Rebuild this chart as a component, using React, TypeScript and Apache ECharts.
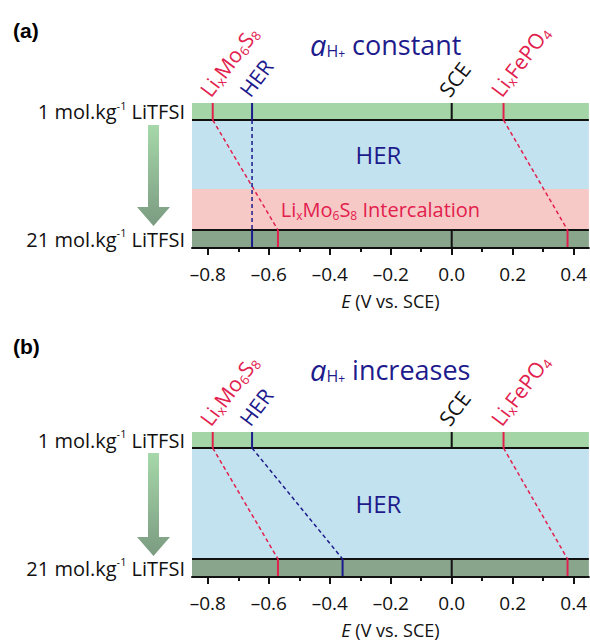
import React, { useEffect, useRef } from 'react';
import * as echarts from 'echarts';

// ---------- data ----------
const xTickValues = [-0.8, -0.6, -0.4, -0.2, 0.0, 0.2, 0.4];
const xMinorTickValues = [-0.7, -0.5, -0.3, -0.1, 0.1, 0.3];
const xRange = [-0.852, 0.45];

const couples = ['LixMo6S8', 'HER', 'SCE', 'LixFePO4'];
const coupleRichText = ['Li{s|x}Mo{s|6}S{s|8}', 'HER', 'SCE', 'Li{s|x}FePO{s|4}'];
const coupleColorKeys = ['red', 'navy', 'black', 'red'];
const coupleHasConnector = [true, true, false, true];

// potentials (V vs. SCE) in 1 mol/kg and 21 mol/kg LiTFSI
const potentialsA1m = [-0.784, -0.655, 0.0, 0.17];
const potentialsA21m = [-0.57, -0.655, 0.0, 0.38];
const potentialsB1m = [-0.784, -0.655, 0.0, 0.17];
const potentialsB21m = [-0.57, -0.358, 0.0, 0.38];

const concentrationLabels = ['21 mol.kg{sup|-1} LiTFSI', '1 mol.kg{sup|-1} LiTFSI'];

// band boundaries (vertical units, 0 = bottom of 21 mol/kg band)
const levelsA = [0, 18, 59, 128, 145];
const regionsA = ['c21', 'intercalation', 'her', 'c1'];
const levelsB = [0, 18, 129, 145];
const regionsB = ['c21', 'her', 'c1'];

const panelTags = ['(a)', '(b)'];
const panelTitles = ['constant', 'increases'];

// ---------- styles ----------
const FONT = 'Open Sans';
const COLORS: Record<string, string> = {
  red: '#e2204d',
  navy: '#1d1b8c',
  black: '#111111',
};
const REGION_COLORS: Record<string, string> = {
  c1: '#a3d5a6',
  her: '#c3e2ef',
  intercalation: '#f7c9c6',
  c21: '#89a68d',
};
const GRIDS = [
  { left: 192, right: 0, top: 103, height: 145 },
  { left: 192, right: 0, top: 432, height: 145 },
];
const LABEL_ANGLE = 53;
const LABEL_OFFSET = [-8, -9];

function regionLabel(region: string) {
  if (region === 'her') {
    return {
      show: true,
      position: 'inside',
      offset: [-12, 0],
      formatter: 'HER',
      color: COLORS.navy,
      fontSize: 24,
      fontFamily: FONT,
      textBorderWidth: 0,
    };
  }
  if (region === 'intercalation') {
    return {
      show: true,
      position: 'inside',
      offset: [-10, 0],
      formatter: 'Li{s|x}Mo{s|6}S{s|8} Intercalation',
      color: COLORS.red,
      fontSize: 20,
      lineHeight: 24,
      fontFamily: FONT,
      textBorderWidth: 0,
      rich: {
        s: { fontSize: 12, lineHeight: 12, verticalAlign: 'bottom', color: COLORS.red, fontFamily: FONT },
      },
    };
  }
  return { show: false };
}

function buildPanel(gi: number, levels: number[], regions: string[], p1: number[], p21: number[]) {
  const yMax = levels[levels.length - 1];
  const topLo = levels[levels.length - 2];
  const botHi = levels[1];
  const series: any[] = [];

  series.push({
    type: 'line',
    xAxisIndex: gi * 2,
    yAxisIndex: gi,
    data: [],
    z: 1,
    silent: true,
    markArea: {
      silent: true,
      data: regions.map((r, k) => [
        {
          xAxis: xRange[0],
          yAxis: levels[k],
          itemStyle: { color: REGION_COLORS[r] },
          label: regionLabel(r),
        },
        { xAxis: xRange[1], yAxis: levels[k + 1] },
      ]),
    },
  });

  [topLo, botHi].forEach((lv) => {
    series.push({
      type: 'line',
      xAxisIndex: gi * 2,
      yAxisIndex: gi,
      data: [
        [xRange[0], lv],
        [xRange[1], lv],
      ],
      symbol: 'none',
      silent: true,
      z: 3,
      lineStyle: { color: '#111', width: 2 },
    });
  });

  couples.forEach((c, i) => {
    const color = COLORS[coupleColorKeys[i]];
    series.push({
      type: 'line',
      xAxisIndex: gi * 2,
      yAxisIndex: gi,
      data: [
        [p1[i], topLo],
        [p1[i], yMax],
      ],
      symbol: 'none',
      silent: true,
      z: 4,
      lineStyle: { color, width: 2 },
    });
    series.push({
      type: 'line',
      xAxisIndex: gi * 2,
      yAxisIndex: gi,
      data: [
        [p21[i], 0],
        [p21[i], botHi],
      ],
      symbol: 'none',
      silent: true,
      z: 4,
      lineStyle: { color, width: 2 },
    });
    if (coupleHasConnector[i]) {
      series.push({
        type: 'line',
        xAxisIndex: gi * 2,
        yAxisIndex: gi,
        data: [
          [p1[i], topLo],
          [p21[i], botHi],
        ],
        symbol: 'none',
        silent: true,
        z: 4,
        lineStyle: { color, width: 1.5, type: [4, 3] },
      });
    }
  });

  const xAxes = [
    {
      type: 'value',
      gridIndex: gi,
      position: 'bottom',
      min: xRange[0],
      max: xRange[1],
      z: 10,
      name: '{i|E} (V vs. SCE)',
      nameLocation: 'middle',
      nameGap: 45,
      nameTextStyle: {
        color: '#111',
        fontSize: 18,
        lineHeight: 16,
        fontFamily: FONT,
        rich: { i: { fontStyle: 'italic', fontSize: 18, lineHeight: 16, fontFamily: FONT, color: '#111' } },
      },
      axisLine: { onZero: false, lineStyle: { color: '#111', width: 2 } },
      axisTick: { customValues: xTickValues, length: 7, lineStyle: { color: '#111', width: 2 } },
      axisLabel: {
        customValues: xTickValues,
        margin: 16,
        color: '#111',
        fontSize: 19,
        fontFamily: FONT,
        formatter: (v: number) => v.toFixed(1).replace('-', '\u2013'),
      },
      splitLine: { show: false },
    },
    {
      type: 'value',
      gridIndex: gi,
      position: 'bottom',
      min: xRange[0],
      max: xRange[1],
      z: 10,
      axisLine: { show: false, onZero: false },
      axisTick: { customValues: xMinorTickValues, length: 4, lineStyle: { color: '#111', width: 2 } },
      axisLabel: { show: false },
      splitLine: { show: false },
    },
  ];

  const yAxis = {
    type: 'value',
    gridIndex: gi,
    min: 0,
    max: yMax,
    axisLine: { show: false },
    axisTick: { show: false },
    splitLine: { show: false },
    axisLabel: {
      customValues: [botHi / 2, (topLo + yMax) / 2],
      margin: 7,
      color: '#111',
      fontSize: 20,
      lineHeight: 24,
      fontFamily: FONT,
      formatter: (v: number) => (v < yMax / 2 ? concentrationLabels[0] : concentrationLabels[1]),
      rich: { sup: { fontSize: 11, lineHeight: 11, verticalAlign: 'top', fontFamily: FONT, color: '#111' } },
    },
  };

  return { series, xAxes, yAxis, yMax };
}

function arrow(top: number, headTop: number, tip: number) {
  return {
    type: 'polygon',
    silent: true,
    shape: {
      points: [
        [148, top],
        [159, top],
        [159, headTop],
        [170, headTop],
        [153.5, tip],
        [137, headTop],
        [148, headTop],
      ],
    },
    style: {
      fill: new echarts.graphic.LinearGradient(0, 0, 0, 1, [
        { offset: 0, color: '#a6d8a9' },
        { offset: 1, color: '#7b9b81' },
      ]),
    },
  };
}

export default function App() {
  const ref = useRef<HTMLDivElement>(null);

  useEffect(() => {
    if (!ref.current) return;
    const chart = echarts.init(ref.current, undefined, { renderer: 'svg' });
    const pa = buildPanel(0, levelsA, regionsA, potentialsA1m, potentialsA21m);
    const pb = buildPanel(1, levelsB, regionsB, potentialsB1m, potentialsB21m);

    const titleRich = {
      a: { fontStyle: 'italic', fontWeight: 'normal', fontSize: 29, fontFamily: FONT, color: COLORS.navy },
      h: { fontSize: 16, fontWeight: 'normal', lineHeight: 16, verticalAlign: 'bottom', fontFamily: FONT, color: COLORS.navy },
      p: { fontSize: 12, fontWeight: 'normal', lineHeight: 22, verticalAlign: 'bottom', fontFamily: FONT, color: COLORS.navy },
    };
    const titleStyle = {
      fontSize: 27,
      fontWeight: 'normal',
      lineHeight: 30,
      fontFamily: FONT,
      color: COLORS.navy,
      rich: titleRich,
    };
    const tagStyle = { fontFamily: 'Liberation Sans', fontWeight: 'bold', fontSize: 21, color: '#000' };

    chart.setOption({
      animation: false,
      backgroundColor: '#ffffff',
      title: [
        { text: panelTags[0], left: 8, top: 15, textStyle: tagStyle },
        { text: panelTags[1], left: 8, top: 331, textStyle: tagStyle },
        { text: '{a|a}{h|H}{p|+} ' + panelTitles[0], left: 305, top: 24, textStyle: titleStyle },
        { text: '{a|a}{h|H}{p|+} ' + panelTitles[1], left: 305, top: 349, textStyle: titleStyle },
      ],
      grid: GRIDS,
      xAxis: [...pa.xAxes, ...pb.xAxes],
      yAxis: [pa.yAxis, pb.yAxis],
      series: [...pa.series, ...pb.series],
    });

    // rotated couple labels placed through the axes' scales
    const labels: any[] = [];
    [
      { gi: 0, p1: potentialsA1m, yMax: pa.yMax },
      { gi: 1, p1: potentialsB1m, yMax: pb.yMax },
    ].forEach(({ gi, p1, yMax }) => {
      p1.forEach((x, i) => {
        const pt = chart.convertToPixel({ xAxisIndex: gi * 2, yAxisIndex: gi } as any, [x, yMax]) as number[];
        const color = COLORS[coupleColorKeys[i]];
        labels.push({
          type: 'text',
          silent: true,
          x: pt[0] + LABEL_OFFSET[0],
          y: pt[1] + LABEL_OFFSET[1],
          rotation: (LABEL_ANGLE * Math.PI) / 180,
          z: 100,
          style: {
            text: coupleRichText[i],
            fill: color,
            fontSize: 21,
            lineHeight: 24,
            fontFamily: FONT,
            align: 'left',
            verticalAlign: 'middle',
            rich: {
              s: { fontSize: 13, lineHeight: 13, verticalAlign: 'bottom', fontFamily: FONT, fill: color },
            },
          },
        });
      });
    });

    chart.setOption({
      graphic: [arrow(125, 207, 226), arrow(453, 537, 556), ...labels],
    });
    return () => chart.dispose();
  }, []);

  return (
    <div
      ref={ref}
      style={{ position: 'fixed', left: 0, top: 0, width: 590, height: 641, background: '#fff' }}
    />
  );
}
